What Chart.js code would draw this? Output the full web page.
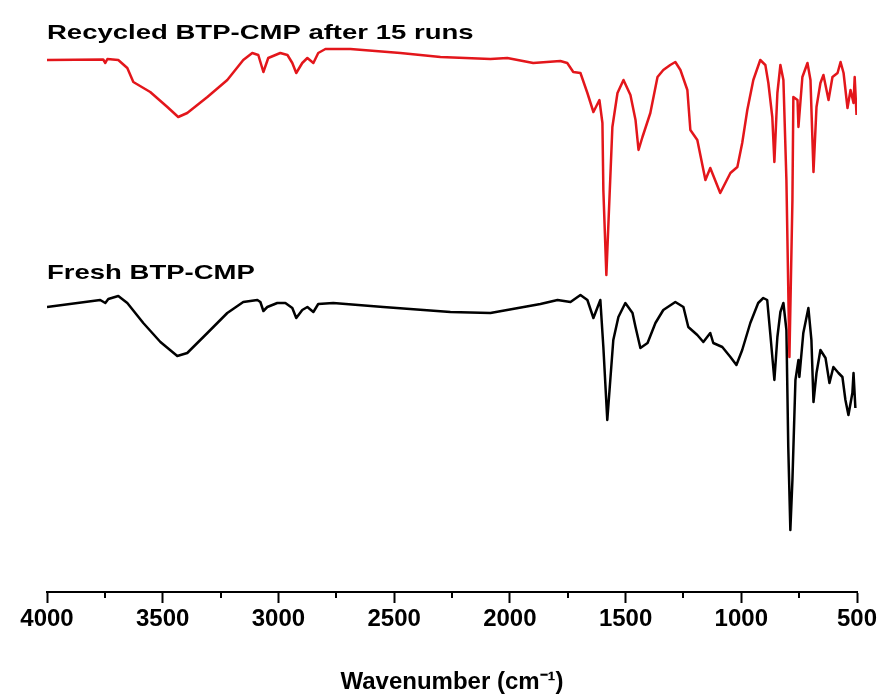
<!DOCTYPE html>
<html>
<head>
<meta charset="utf-8">
<script src="https://cdn.jsdelivr.net/npm/chart.js@4/dist/chart.umd.min.js"></script>
<style>
  html, body { margin: 0; padding: 0; background: #fff; }
  #wrap { width: 885px; height: 700px; }
</style>
</head>
<body>
<div id="wrap"><canvas id="irChart"></canvas></div>
<script>
// Wavenumbers (cm-1) and transmittance (a.u.).
var recycledWave = [4000, 3757, 3748, 3739, 3692, 3653, 3627, 3554, 3480, 3433, 3394, 3307, 3221, 3152, 3113, 3087, 3065, 3044, 2992, 2961, 2940, 2923, 2897, 2875, 2849, 2828, 2797, 2689, 2473, 2300, 2084, 2011, 1899, 1782, 1752, 1726, 1695, 1665, 1639, 1613, 1600, 1596, 1583, 1574, 1557, 1535, 1509, 1479, 1457, 1444, 1427, 1393, 1362, 1337, 1307, 1285, 1263, 1233, 1220, 1190, 1155, 1134, 1091, 1047, 1017, 996, 974, 948, 918, 896, 883, 866, 857, 844, 831, 818, 805, 792, 779, 775, 757, 753, 736, 714, 701, 688, 675, 658, 645, 623, 606, 584, 571, 558, 541, 528, 515, 510, 502];
var recycledT = [106.4, 106.5, 105.8, 106.6, 106.4, 104.8, 102, 100, 97, 95, 95.8, 99, 102.4, 106.4, 107.8, 107.4, 104, 106.8, 107.8, 107.4, 105.8, 103.8, 105.8, 106.8, 105.8, 107.8, 108.6, 108.6, 107.8, 107, 106.6, 106.8, 105.8, 106.2, 105.8, 104, 103.8, 99.8, 96, 98.4, 93.8, 80.4, 63.4, 73.8, 93, 99.8, 102.4, 99.4, 94.4, 88.4, 91, 95.8, 103, 104.4, 105.4, 106, 104.4, 100.4, 92.4, 90.4, 82.4, 84.8, 79.8, 83.8, 85, 89.8, 96.4, 102.4, 106.4, 105.4, 101.8, 95, 86, 99.8, 105.4, 102.4, 82.4, 47, 78.4, 99, 98.4, 93, 103, 105.8, 102.4, 84, 97, 101.8, 103.4, 98.4, 103, 103.8, 106, 103.8, 96.8, 100.4, 97.8, 103, 95.4];

var freshWave = [4000, 3770, 3748, 3735, 3692, 3653, 3584, 3510, 3437, 3394, 3307, 3221, 3152, 3091, 3078, 3065, 3048, 3005, 2970, 2940, 2923, 2897, 2875, 2849, 2828, 2763, 2547, 2257, 2084, 1868, 1794, 1738, 1695, 1665, 1639, 1609, 1596, 1579, 1566, 1553, 1531, 1501, 1470, 1457, 1436, 1405, 1371, 1337, 1285, 1250, 1229, 1190, 1164, 1134, 1121, 1082, 1047, 1021, 996, 961, 927, 905, 888, 875, 857, 844, 831, 818, 805, 797, 788, 779, 766, 753, 749, 732, 710, 697, 688, 675, 658, 636, 619, 602, 580, 563, 550, 537, 520, 515, 507];
var freshT = [57, 58.4, 57.8, 58.6, 59.2, 57.8, 53.8, 50, 47.2, 47.8, 51.8, 55.8, 58, 58.4, 58, 56.2, 57, 57.8, 57.8, 56.8, 54.8, 56.4, 57, 56, 57.6, 57.8, 57, 56, 55.8, 57.6, 58.4, 58, 59.4, 58.4, 54.8, 58.4, 49, 34.4, 42.4, 50.4, 55, 57.8, 55.8, 53, 48.8, 49.8, 53.8, 56.4, 58, 57, 53, 51.4, 50, 51.8, 49.8, 49, 47, 45.4, 48.4, 53.8, 57.8, 58.8, 58.4, 51.8, 42.4, 51, 56, 57.8, 52.4, 29, 12.4, 22.4, 42.4, 46.4, 43, 51.8, 56.8, 50.4, 38, 43.8, 48.4, 46.8, 41.8, 45, 43.8, 43, 38.4, 35.4, 39.8, 43.8, 36.8];

var seriesNames = ["Recycled BTP-CMP after 15 runs", "Fresh BTP-CMP"];
var xTickMin = 500;
var xTickMax = 4000;

function toPoints(xs, ys) {
  var pts = [];
  for (var i = 0; i < xs.length; i++) {
    pts.push({x: xs[i], y: ys[i]});
  }
  return pts;
}

// Minor ticks between the labelled ones, and the two curve labels.
var extrasPlugin = {
  id: 'extras',
  afterDraw: function(chart) {
    var ctx = chart.ctx;
    var xs = chart.scales.x;
    var ys = chart.scales.y;
    ctx.save();
    ctx.strokeStyle = '#000';
    ctx.lineWidth = 2;
    for (var v = xTickMin + 250; v < xTickMax; v += 500) {
      var px = Math.round(xs.getPixelForValue(v));
      ctx.beginPath();
      ctx.moveTo(px, xs.top);
      ctx.lineTo(px, xs.top + 6);
      ctx.stroke();
    }
    // curve labels, anchored in data units
    var anchors = [{x: 4000, y: 111.8}, {x: 4000, y: 63.8}];
    ctx.fillStyle = '#000';
    ctx.font = 'bold 21px "Liberation Sans", Arial, sans-serif';
    ctx.textBaseline = 'middle';
    ctx.textAlign = 'left';
    for (var i = 0; i < seriesNames.length; i++) {
      var lx = xs.getPixelForValue(anchors[i].x);
      var ly = ys.getPixelForValue(anchors[i].y);
      ctx.save();
      ctx.translate(lx, ly);
      ctx.scale(1.31, 1);
      ctx.fillText(seriesNames[i], 0, 0);
      ctx.restore();
    }
    ctx.restore();
  }
};

var ctx = document.getElementById('irChart');
var irChart = new Chart(ctx, {
  type: 'line',
  data: {
    datasets: [{
      label: seriesNames[0],
      data: toPoints(recycledWave, recycledT),
      borderColor: '#e3161b',
      borderWidth: 2.5,
      pointRadius: 0,
      tension: 0,
      borderJoinStyle: 'round'
    }, {
      label: seriesNames[1],
      data: toPoints(freshWave, freshT),
      borderColor: '#000000',
      borderWidth: 2.5,
      pointRadius: 0,
      tension: 0,
      borderJoinStyle: 'round'
    }]
  },
  options: {
    responsive: true,
    maintainAspectRatio: false,
    animation: false,
    layout: {
      padding: {left: 47, right: 28, top: 0, bottom: 0}
    },
    plugins: {
      legend: {display: false},
      tooltip: {enabled: false}
    },
    scales: {
      x: {
        type: 'linear',
        reverse: true,
        min: xTickMin,
        max: xTickMax,
        afterFit: function(scale) { scale.height = 108; },
        border: {display: true, color: '#000', width: 2},
        grid: {
          display: true,
          drawOnChartArea: false,
          drawTicks: true,
          tickLength: 11,
          tickWidth: 2,
          tickColor: '#000'
        },
        ticks: {
          stepSize: 500,
          maxRotation: 0,
          autoSkip: false,
          color: '#000',
          padding: 2,
          callback: function(value) { return String(value); },
          font: {family: '"Liberation Sans", Arial, sans-serif', size: 24, weight: 'bold'}
        },
        title: {
          display: true,
          text: 'Wavenumber (cm\u207B\u00B9)',
          color: '#000',
          padding: {top: 4, bottom: 3},
          font: {family: '"Liberation Sans", Arial, sans-serif', size: 24, weight: 'bold'}
        }
      },
      y: {
        display: false,
        min: 0,
        max: 118.4
      }
    }
  },
  plugins: [extrasPlugin]
});
</script>
</body>
</html>
